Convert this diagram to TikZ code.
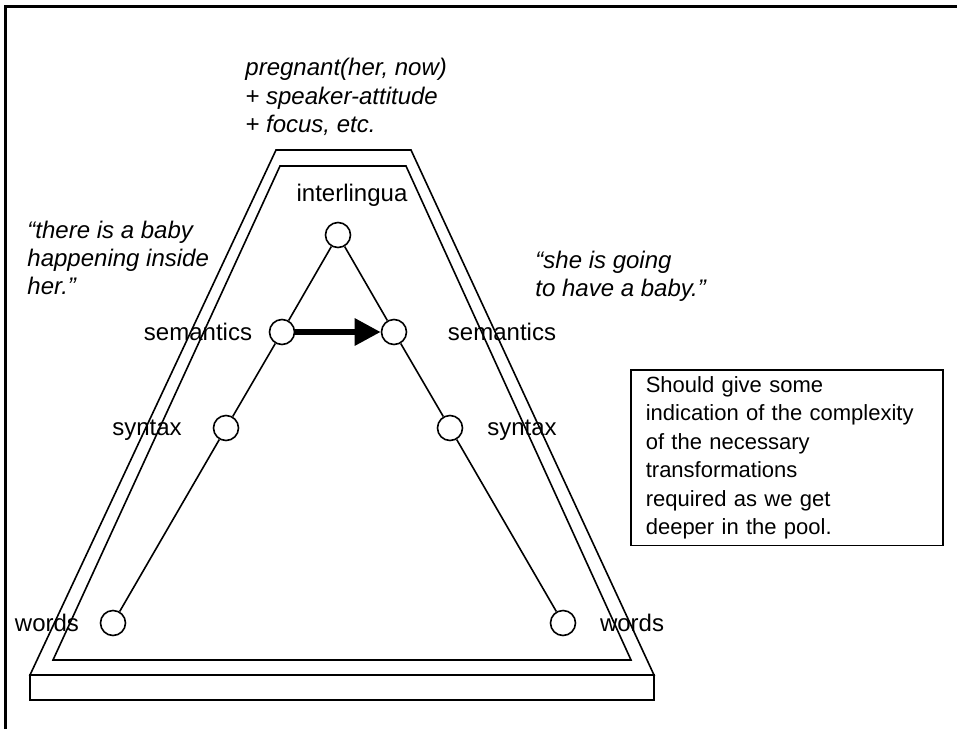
\documentclass[tikz,border=0pt]{standalone}
\usepackage{fontspec}
\setmainfont{Liberation Sans}
\usetikzlibrary{arrows.meta}

\begin{document}
\begin{tikzpicture}[x=0.5pt, y=-0.5pt, line width=0.8pt,
  font=\fontsize{12}{14.2}\selectfont,
  station/.style={circle, draw, inner sep=0pt, minimum size=12.5pt},
  quote/.style={anchor=west, align=left, font=\fontsize{12}{14.2}\selectfont\itshape}]
  \useasboundingbox (0,0) rectangle (957,729);
  % page frame
  \draw[line width=1.5pt] (5,729) -- (5,6) -- (957,6);
  % the pool
  \draw (276,150) -- (411,150) -- (654,675) -- (30,675) -- cycle;
  \draw (30,675) rectangle (654,700);
  \draw (280,166) -- (406,166) -- (631,660) -- (53,660) -- cycle;
  % levels
  \node[station] (il) at (338,235) {};
  \node[station] (sl) at (282,332) {};
  \node[station] (sr) at (394,332) {};
  \node[station] (yl) at (226,428) {};
  \node[station] (yr) at (450,428) {};
  \node[station] (wl) at (113,623) {};
  \node[station] (wr) at (563,623) {};
  \node (ilname) at (352,195) {interlingua};
  \node (slname) at (198,332) {semantics};
  \node (srname) at (502,332) {semantics};
  \node (ylname) at (147,430) {syntax};
  \node (yrname) at (522,430) {syntax};
  \node (wlname) at (47,623) {words};
  \node (wrname) at (632,623) {words};
  \draw (il) -- (sl) -- (yl) -- (wl);
  \draw (il) -- (sr) -- (yr) -- (wr);
  \draw[line width=3pt, -{Triangle[length=13pt, width=13pt]}] (sl) -- (sr);
  % sentences
  \node[quote] (meaning) at (238,97) {pregnant(her, now)\\+ speaker-attitude\\+ focus, etc.};
  \node[quote] (src) at (20,258) {``there is a baby\\happening inside\\her.''};
  \node[quote] (tgt) at (528,276) {``she is going\\to have a baby.''};
  \node[draw, anchor=north west, align=left, font=\fontsize{11}{14.2}\selectfont,
        text width=141pt, inner xsep=7.5pt, minimum height=87pt] (note) at (630,369)
    {Should give some\\indication of the complexity\\of the necessary\\transformations\\required as we get\\deeper in the pool.};
\end{tikzpicture}
\end{document}
